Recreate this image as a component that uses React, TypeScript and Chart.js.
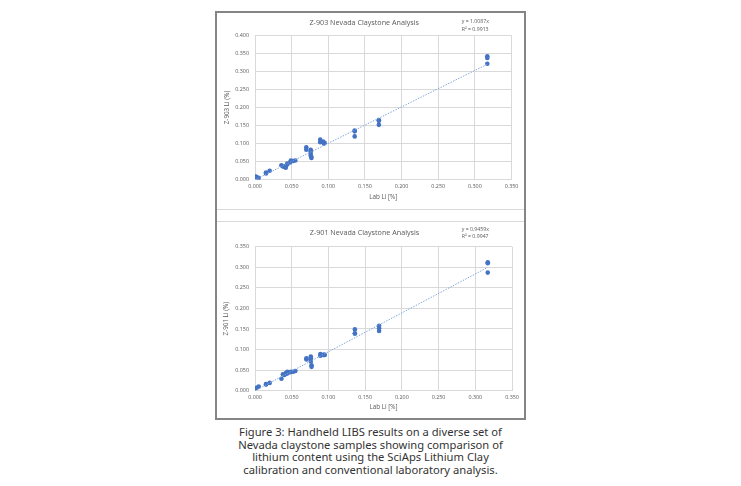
import React, { useEffect, useRef } from "react";
import { Chart, registerables } from "chart.js";

Chart.register(...registerables);

// Lab Li (%) for each claystone sample
const labLi = [
  0.001, 0.002, 0.005, 0.015, 0.015, 0.02, 0.036, 0.038, 0.04, 0.042, 0.042, 0.044, 0.044,
  0.048, 0.049, 0.052, 0.055, 0.07, 0.07, 0.076, 0.076, 0.076, 0.076, 0.077, 0.077, 0.089,
  0.089, 0.093, 0.094, 0.095, 0.136, 0.136, 0.136, 0.169, 0.169, 0.169, 0.317, 0.317, 0.317,
];
// Z-903 Li (%)
const z903Li = [
  0.009, 0.007, 0.005, 0.017, 0.02, 0.025, 0.04, 0.037, 0.035, 0.033, 0.038, 0.042, 0.045,
  0.048, 0.053, 0.052, 0.053, 0.09, 0.083, 0.083, 0.079, 0.072, 0.066, 0.063, 0.06, 0.111,
  0.104, 0.106, 0.1, 0.102, 0.136, 0.134, 0.12, 0.165, 0.163, 0.152, 0.342, 0.337, 0.321,
];
// Z-901 Li (%)
const z901Li = [
  0.006, 0.007, 0.01, 0.015, 0.016, 0.019, 0.029, 0.04, 0.038, 0.041, 0.043, 0.042, 0.046,
  0.045, 0.046, 0.046, 0.048, 0.079, 0.076, 0.083, 0.079, 0.075, 0.071, 0.062, 0.058, 0.089,
  0.085, 0.087, 0.087, 0.087, 0.149, 0.139, 0.139, 0.158, 0.152, 0.145, 0.312, 0.31, 0.287,
];

const z903Fit = { slope: 1.0087, r2: 0.9913 };
const z901Fit = { slope: 0.9459, r2: 0.9947 };

const xTickMax = 0.35;
const z903TickMax = 0.4;
const z901TickMax = 0.35;
const tickStep = 0.05;

const FONT = '"Open Sans", sans-serif';

const eqPlugin = {
  id: "eqText",
  afterDraw(chart: any, _args: any, opts: any) {
    if (!opts || !opts.lines) return;
    const { ctx } = chart;
    ctx.save();
    ctx.font = `${opts.size}px ${FONT}`;
    ctx.fillStyle = opts.color;
    ctx.textBaseline = "middle";
    ctx.textAlign = "left";
    opts.lines.forEach((l: string, i: number) => ctx.fillText(l, opts.x, opts.y + i * opts.gap));
    ctx.restore();
  },
};

type Layout = {
  chartLeft: number;
  rightPad: number;
  chartTop: number;
  bottomSpace: number;
  titleCenter: number;
  yTitleX: number;
  xTitleY: number;
  eqX: number;
  eqY: number;
};

type Props = {
  left: number;
  top: number;
  width: number;
  height: number;
  title: string;
  yTitle: string;
  yData: number[];
  yMax: number;
  fit: { slope: number; r2: number };
  layout: Layout;
};

function ScatterPanel(p: Props) {
  const ref = useRef<HTMLCanvasElement | null>(null);
  useEffect(() => {
    if (!ref.current) return;
    const L = p.layout;
    const titleSize = 7.2;
    const titleLH = titleSize * 1.2;
    const axisTitleSize = 6.3;
    const axisTitleLH = axisTitleSize * 1.2;
    const points = labLi.map((x, i) => ({ x, y: p.yData[i] }));
    const maxX = Math.max(...labLi);
    const chart = new Chart(ref.current, {
      type: "scatter",
      data: {
        datasets: [
          {
            label: "data",
            data: points,
            backgroundColor: "#4472C4",
            borderWidth: 0,
            pointRadius: 2.3,
            order: 1,
          } as any,
          {
            label: "trend",
            data: [
              { x: 0, y: 0 },
              { x: maxX, y: p.fit.slope * maxX },
            ],
            showLine: true,
            borderColor: "#7AA3DD",
            borderWidth: 1,
            borderDash: [1.4, 1.4],
            pointRadius: 0,
            order: 0,
          } as any,
        ],
      },
      options: {
        responsive: false,
        animation: false,
        devicePixelRatio: 1,
        layout: { padding: { left: 0, top: 0, right: L.rightPad, bottom: 0 } },
        plugins: {
          legend: { display: false },
          tooltip: { enabled: false },
          title: {
            display: true,
            text: p.title,
            color: "#595959",
            font: { family: FONT, size: titleSize, weight: "normal" },
            padding: {
              top: L.titleCenter - titleLH / 2,
              bottom: L.chartTop - (L.titleCenter - titleLH / 2) - titleLH,
            },
          },
          eqText: {
            lines: [`y = ${p.fit.slope.toFixed(4)}x`, `R\u00B2 = ${p.fit.r2.toFixed(4)}`],
            x: L.eqX,
            y: L.eqY,
            gap: 7.5,
            size: 5.2,
            color: "#595959",
          },
        } as any,
        scales: {
          x: {
            type: "linear",
            min: 0,
            max: xTickMax,
            ticks: {
              stepSize: tickStep,
              padding: 4,
              color: "#595959",
              font: { family: FONT, size: 5.4 },
              callback: (v: any) => Number(v).toFixed(3),
            },
            grid: { color: "#D9D9D9", lineWidth: 1, drawTicks: false },
            border: { display: true, color: "#D9D9D9" },
            title: {
              display: true,
              text: "Lab Li [%]",
              color: "#595959",
              font: { family: FONT, size: axisTitleSize },
              padding: { top: 0, bottom: p.height - L.xTitleY - axisTitleLH / 2 },
            },
            afterFit: (s: any) => {
              s.height = L.bottomSpace;
            },
          },
          y: {
            type: "linear",
            min: 0,
            max: p.yMax,
            ticks: {
              stepSize: tickStep,
              padding: 6,
              color: "#595959",
              font: { family: FONT, size: 5.4 },
              callback: (v: any) => Number(v).toFixed(3),
            },
            grid: { color: "#D9D9D9", lineWidth: 1, drawTicks: false },
            border: { display: true, color: "#D9D9D9" },
            title: {
              display: true,
              text: p.yTitle,
              color: "#595959",
              font: { family: FONT, size: axisTitleSize },
              padding: { top: L.yTitleX - axisTitleLH / 2, bottom: 0 },
            },
            afterFit: (s: any) => {
              s.width = L.chartLeft;
            },
          },
        },
      } as any,
      plugins: [eqPlugin],
    });
    return () => chart.destroy();
  }, []);
  return (
    <canvas
      ref={ref}
      width={p.width}
      height={p.height}
      style={{ position: "absolute", left: p.left, top: p.top, width: p.width, height: p.height }}
    />
  );
}

export default function App() {
  return (
    <div
      style={{
        position: "absolute",
        left: 0,
        top: 0,
        width: 741,
        height: 486,
        background: "#fff",
        overflow: "hidden",
      }}
    >
      <div
        style={{
          position: "absolute",
          left: 215,
          top: 11,
          width: 307,
          height: 405,
          border: "2px solid #858585",
          background: "#fff",
        }}
      />
      <div style={{ position: "absolute", left: 217, top: 209, width: 307, height: 1, background: "#D9D9D9" }} />
      <div style={{ position: "absolute", left: 217, top: 221, width: 307, height: 1, background: "#D9D9D9" }} />
      <ScatterPanel
        left={217}
        top={13}
        width={307}
        height={196}
        title="Z-903 Nevada Claystone Analysis"
        yTitle="Z-903 Li (%)"
        yData={z903Li}
        yMax={z903TickMax}
        fit={z903Fit}
        layout={{
          chartLeft: 38,
          rightPad: 12.5,
          chartTop: 22.3,
          bottomSpace: 196 - 166.7,
          titleCenter: 10,
          yTitleX: 10,
          xTitleY: 184,
          eqX: 244.7,
          eqY: 9,
        }}
      />
      <ScatterPanel
        left={217}
        top={222}
        width={307}
        height={196}
        title="Z-901 Nevada Claystone Analysis"
        yTitle="Z-901 Li (%)"
        yData={z901Li}
        yMax={z901TickMax}
        fit={z901Fit}
        layout={{
          chartLeft: 38,
          rightPad: 12,
          chartTop: 24.7,
          bottomSpace: 196 - 168.7,
          titleCenter: 11,
          yTitleX: 9,
          xTitleY: 185,
          eqX: 244.7,
          eqY: 7.3,
        }}
      />
      <div
        style={{
          position: "absolute",
          left: 0,
          top: 426,
          width: 741,
          textAlign: "center",
          fontFamily: '"Noto Sans", sans-serif',
          fontSize: 11.2,
          lineHeight: "12.6px",
          color: "#333",
        }}
      >
        Figure 3: Handheld LIBS results on a diverse set of
        <br />
        Nevada claystone samples showing comparison of
        <br />
        lithium content using the SciAps Lithium Clay
        <br />
        calibration and conventional laboratory analysis.
      </div>
    </div>
  );
}
